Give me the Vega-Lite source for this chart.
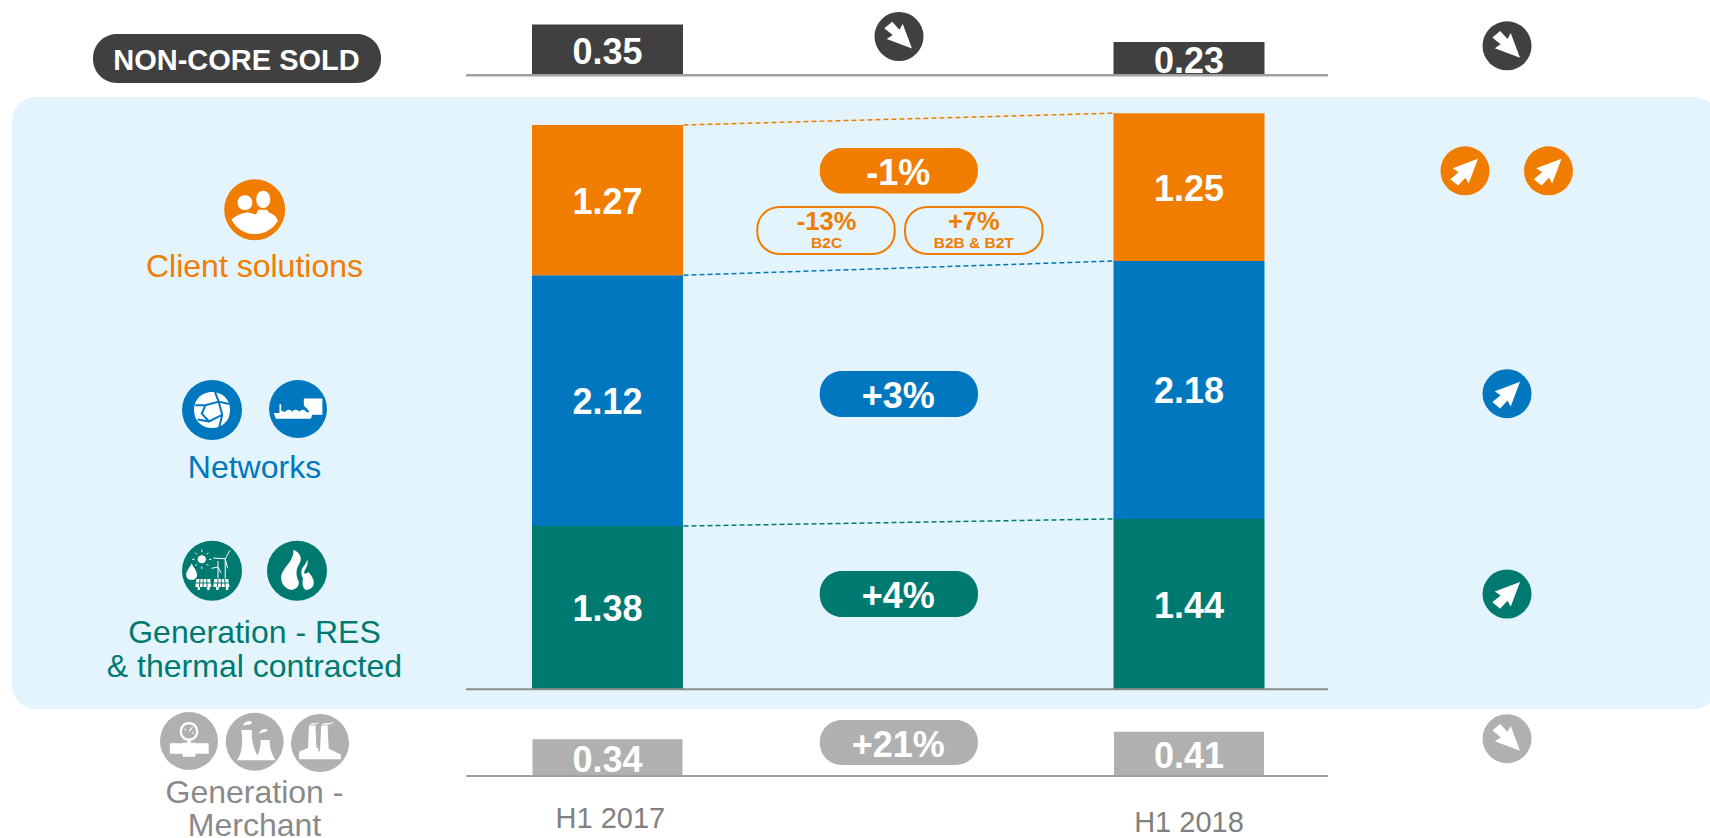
{
"$schema":"https://vega.github.io/schema/vega-lite/v6.json",
"width":1710,"height":838,"padding":0,"autosize":{"type":"none"},"background":"#ffffff",
"config":{"axis":{"disable":true},"view":{"stroke":null},"text":{"font":"Liberation Sans"}},
"datasets":{
"core":[
{"period":"H1 2017","year":2017,"segment":"Generation - RES & thermal contracted","level":1,"value":1.38},
{"period":"H1 2017","year":2017,"segment":"Networks","level":2,"value":2.12},
{"period":"H1 2017","year":2017,"segment":"Client solutions","level":3,"value":1.27},
{"period":"H1 2018","year":2018,"segment":"Generation - RES & thermal contracted","level":1,"value":1.44},
{"period":"H1 2018","year":2018,"segment":"Networks","level":2,"value":2.18},
{"period":"H1 2018","year":2018,"segment":"Client solutions","level":3,"value":1.25}],
"noncore":[{"period":"H1 2017","year":2017,"value":0.35},{"period":"H1 2018","year":2018,"value":0.23}],
"merchant":[{"period":"H1 2017","year":2017,"value":0.34},{"period":"H1 2018","year":2018,"value":0.41}]
},
"resolve":{"scale":{"y":"independent"}},
"layer":[
{"layer":[
{"data":{"values":[{"area":"regulated and contracted"}]},"mark":{"type":"rect","color":"#E3F4FD","cornerRadius":24},
 "encoding":{"x":{"datum":2015.9759,"scale":{"domain":[2015.95529,2018.89596],"nice":false,"zero":false,"padding":0}},"x2":{"datum":2018.9097},
 "y":{"datum":5.0068,"scale":{"domain":[-1.257,5.8267],"nice":false,"zero":false}},"y2":{"datum":-0.1665}}},
{"data":{"values":[{"link":"client solutions top"}]},"mark":{"type":"rule","color":"#F07D00","strokeWidth":1.5,"strokeDash":[5,3]},
 "encoding":{"x":{"datum":2017.1307},"x2":{"datum":2017.8693},"y":{"datum":4.77},"y2":{"datum":4.87}}},
{"data":{"values":[{"link":"networks top"}]},"mark":{"type":"rule","color":"#0077BE","strokeWidth":1.5,"strokeDash":[5,3]},
 "encoding":{"x":{"datum":2017.1307},"x2":{"datum":2017.8693},"y":{"datum":3.5},"y2":{"datum":3.62}}},
{"data":{"values":[{"link":"generation top"}]},"mark":{"type":"rule","color":"#007A70","strokeWidth":1.5,"strokeDash":[5,3]},
 "encoding":{"x":{"datum":2017.1307},"x2":{"datum":2017.8693},"y":{"datum":1.38},"y2":{"datum":1.44}}},
{"data":{"name":"core"},"mark":{"type":"bar","orient":"vertical","width":151},
 "encoding":{"x":{"field":"year","type":"quantitative","scale":{"domain":[2015.95529,2018.89596],"nice":false,"zero":false,"padding":0}},
 "y":{"field":"value","type":"quantitative","stack":"zero"},
 "order":{"field":"level","type":"quantitative"},
 "color":{"field":"segment","type":"nominal","legend":null,"scale":{"domain":["Client solutions","Networks","Generation - RES & thermal contracted"],"range":["#F07D00","#0077BE","#007A70"]}}}},
{"data":{"name":"core"},"mark":{"type":"text","color":"#ffffff","fontWeight":"bold","fontSize":36,"dy":2.5},
 "encoding":{"x":{"field":"year","type":"quantitative"},
 "y":{"field":"value","type":"quantitative","stack":"zero","bandPosition":0.5},
 "order":{"field":"level","type":"quantitative"},
 "text":{"field":"value","type":"quantitative","format":".2f"}}},
{"data":{"values":[{"line":"core baseline"}]},"mark":{"type":"rule","color":"#8C8C8C","strokeWidth":2},
 "encoding":{"x":{"datum":2016.7567},"x2":{"datum":2018.239},"y":{"datum":0}}},

{"data":{"values":[{"label":"NON-CORE SOLD"}]},"layer":[
 {"mark":{"type":"rect","color":"#404040","cornerRadius":24},"encoding":{"x":{"datum":2016.1152},"x2":{"datum":2016.6105},"y":{"datum":5.5393},"y2":{"datum":5.1251}}},
 {"mark":{"type":"text","color":"#ffffff","fontWeight":"bold","fontSize":29,"dy":2},"encoding":{"x":{"datum":2016.362},"y":{"datum":5.3254},"text":{"field":"label"}}}]},

{"data":{"values":[{"label":"-1%"}]},"layer":[
 {"mark":{"type":"rect","color":"#F07D00","cornerRadius":22},"encoding":{"x":{"datum":2017.365},"x2":{"datum":2017.637},"y":{"datum":4.5757},"y2":{"datum":4.191}}},
 {"mark":{"type":"text","color":"#ffffff","fontWeight":"bold","fontSize":36,"dy":2},"encoding":{"x":{"datum":2017.5},"y":{"datum":4.3728},"text":{"field":"label"}}}]},
{"data":{"values":[{"label":"+3%"}]},"layer":[
 {"mark":{"type":"rect","color":"#0077BE","cornerRadius":22},"encoding":{"x":{"datum":2017.365},"x2":{"datum":2017.637},"y":{"datum":2.6906},"y2":{"datum":2.3018}}},
 {"mark":{"type":"text","color":"#ffffff","fontWeight":"bold","fontSize":36,"dy":2},"encoding":{"x":{"datum":2017.5},"y":{"datum":2.4877},"text":{"field":"label"}}}]},
{"data":{"values":[{"label":"+4%"}]},"layer":[
 {"mark":{"type":"rect","color":"#007A70","cornerRadius":22},"encoding":{"x":{"datum":2017.365},"x2":{"datum":2017.637},"y":{"datum":1.0},"y2":{"datum":0.6112}}},
 {"mark":{"type":"text","color":"#ffffff","fontWeight":"bold","fontSize":36,"dy":2},"encoding":{"x":{"datum":2017.5},"y":{"datum":0.7971},"text":{"field":"label"}}}]},
{"data":{"values":[{"label":"+21%"}]},"layer":[
 {"mark":{"type":"rect","color":"#B0B0B0","cornerRadius":22},"encoding":{"x":{"datum":2017.365},"x2":{"datum":2017.637},"y":{"datum":-0.2595},"y2":{"datum":-0.6399}}},
 {"mark":{"type":"text","color":"#ffffff","fontWeight":"bold","fontSize":36,"dy":2},"encoding":{"x":{"datum":2017.5},"y":{"datum":-0.4624},"text":{"field":"label"}}}]},

{"data":{"values":[{"label":"-13%","market":"B2C"}]},"layer":[
 {"mark":{"type":"rect","fill":"transparent","stroke":"#F07D00","strokeWidth":2,"cornerRadius":22},"encoding":{"x":{"datum":2017.2576},"x2":{"datum":2017.4939},"y":{"datum":4.0769},"y2":{"datum":3.6796}}},
 {"mark":{"type":"text","color":"#F07D00","fontWeight":"bold","fontSize":25.5},"encoding":{"x":{"datum":2017.3768},"y":{"datum":3.9527},"text":{"field":"label"}}},
 {"mark":{"type":"text","color":"#F07D00","fontWeight":"bold","fontSize":15.5,"dy":1},"encoding":{"x":{"datum":2017.3768},"y":{"datum":3.7836},"text":{"field":"market"}}}]},
{"data":{"values":[{"label":"+7%","market":"B2B & B2T"}]},"layer":[
 {"mark":{"type":"rect","fill":"transparent","stroke":"#F07D00","strokeWidth":2,"cornerRadius":22},"encoding":{"x":{"datum":2017.5116},"x2":{"datum":2017.7481},"y":{"datum":4.0769},"y2":{"datum":3.6796}}},
 {"mark":{"type":"text","color":"#F07D00","fontWeight":"bold","fontSize":25.5},"encoding":{"x":{"datum":2017.6299},"y":{"datum":3.9527},"text":{"field":"label"}}},
 {"mark":{"type":"text","color":"#F07D00","fontWeight":"bold","fontSize":15.5,"dy":1},"encoding":{"x":{"datum":2017.6299},"y":{"datum":3.7836},"text":{"field":"market"}}}]},

{"data":{"values":[{"label":"Client solutions"}]},"mark":{"type":"text","color":"#F07D00","fontSize":32,"dy":2},"encoding":{"x":{"datum":2016.3929},"y":{"datum":3.5866},"text":{"field":"label"}}},
{"data":{"values":[{"label":"Networks"}]},"mark":{"type":"text","color":"#0077BE","fontSize":32,"dy":1},"encoding":{"x":{"datum":2016.3929},"y":{"datum":1.8817},"text":{"field":"label"}}},
{"data":{"values":[{"label":"Generation - RES\n& thermal contracted"}]},"mark":{"type":"text","color":"#007A70","fontSize":32,"lineBreak":"\n","lineHeight":34,"dy":1},"encoding":{"x":{"datum":2016.3929},"y":{"datum":0.4869},"text":{"field":"label"}}},
{"data":{"values":[{"label":"Generation -\nMerchant"}]},"mark":{"type":"text","color":"#8A8A8A","fontSize":32,"lineBreak":"\n","lineHeight":33},"encoding":{"x":{"datum":2016.3929},"y":{"datum":-0.8766},"text":{"field":"label"}}},
{"data":{"values":[{"label":"H1 2017"}]},"mark":{"type":"text","color":"#808080","fontSize":29,"dy":1},"encoding":{"x":{"datum":2017.005},"y":{"datum":-1.0854},"text":{"field":"label"}}},
{"data":{"values":[{"label":"H1 2018"}]},"mark":{"type":"text","color":"#808080","fontSize":29,"dy":1},"encoding":{"x":{"datum":2018},"y":{"datum":-1.1192},"text":{"field":"label"}}},

{"data":{"values":[{"trend":"down","series":"non-core change"}]},"encoding":{"x":{"datum":2017.5013},"y":{"datum":5.5182}},"layer":[
 {"mark":{"type":"circle","color":"#404040","size":2401,"opacity":1}},
 {"mark":{"type":"point","shape":"M0.265,0.245L0.075,-0.26L0.01,-0.14L-0.14,-0.30L-0.30,-0.17L-0.13,-0.03L-0.25,0.05Z","filled":true,"color":"#ffffff","size":9604,"opacity":1}}]},
{"data":{"values":[{"trend":"down","series":"non-core outlook"}]},"encoding":{"x":{"datum":2018.5469},"y":{"datum":5.4395}},"layer":[
 {"mark":{"type":"circle","color":"#404040","size":2401,"opacity":1}},
 {"mark":{"type":"point","shape":"M0.265,0.245L0.075,-0.26L0.01,-0.14L-0.14,-0.30L-0.30,-0.17L-0.13,-0.03L-0.25,0.05Z","filled":true,"color":"#ffffff","size":9604,"opacity":1}}]},
{"data":{"values":[{"trend":"up","series":"B2C outlook"}]},"encoding":{"x":{"datum":2018.4746},"y":{"datum":4.3829}},"layer":[
 {"mark":{"type":"circle","color":"#F07D00","size":2401,"opacity":1}},
 {"mark":{"type":"point","shape":"M0.265,-0.245L0.075,0.26L0.01,0.14L-0.14,0.30L-0.30,0.17L-0.13,0.03L-0.25,-0.05Z","filled":true,"color":"#ffffff","size":9604,"opacity":1}}]},
{"data":{"values":[{"trend":"up","series":"B2B outlook"}]},"encoding":{"x":{"datum":2018.6182},"y":{"datum":4.3829}},"layer":[
 {"mark":{"type":"circle","color":"#F07D00","size":2401,"opacity":1}},
 {"mark":{"type":"point","shape":"M0.265,-0.245L0.075,0.26L0.01,0.14L-0.14,0.30L-0.30,0.17L-0.13,0.03L-0.25,-0.05Z","filled":true,"color":"#ffffff","size":9604,"opacity":1}}]},
{"data":{"values":[{"trend":"up","series":"networks outlook"}]},"encoding":{"x":{"datum":2018.5469},"y":{"datum":2.4987}},"layer":[
 {"mark":{"type":"circle","color":"#0077BE","size":2401,"opacity":1}},
 {"mark":{"type":"point","shape":"M0.265,-0.245L0.075,0.26L0.01,0.14L-0.14,0.30L-0.30,0.17L-0.13,0.03L-0.25,-0.05Z","filled":true,"color":"#ffffff","size":9604,"opacity":1}}]},
{"data":{"values":[{"trend":"up","series":"generation outlook"}]},"encoding":{"x":{"datum":2018.5469},"y":{"datum":0.8056}},"layer":[
 {"mark":{"type":"circle","color":"#007A70","size":2401,"opacity":1}},
 {"mark":{"type":"point","shape":"M0.265,-0.245L0.075,0.26L0.01,0.14L-0.14,0.30L-0.30,0.17L-0.13,0.03L-0.25,-0.05Z","filled":true,"color":"#ffffff","size":9604,"opacity":1}}]},
{"data":{"values":[{"trend":"down","series":"merchant outlook"}]},"encoding":{"x":{"datum":2018.5469},"y":{"datum":-0.4176}},"layer":[
 {"mark":{"type":"circle","color":"#B0B0B0","size":2401,"opacity":1}},
 {"mark":{"type":"point","shape":"M0.265,0.245L0.075,-0.26L0.01,-0.14L-0.14,-0.30L-0.30,-0.17L-0.13,-0.03L-0.25,0.05Z","filled":true,"color":"#ffffff","size":9604,"opacity":1}}]},

{"data":{"values":[{"icon":"customers"}]},"encoding":{"x":{"datum":2016.3933},"y":{"datum":4.0541}},"layer":[
 {"mark":{"type":"circle","color":"#F07D00","size":3721,"opacity":1}},
 {"mark":{"type":"point","shape":"M-0.28,-0.115C-0.28,-0.275 -0.04,-0.275 -0.04,-0.115C-0.04,0.045 -0.28,0.045 -0.28,-0.115Z M0.025,-0.17C0.025,-0.36 0.255,-0.36 0.255,-0.17C0.255,0.02 0.025,0.02 0.025,-0.17Z M-0.38,0.16C-0.3,0.08 -0.2,0.06 -0.12,0.04L0.02,0.08L0.06,0L0.2,0L0.24,0.05C0.3,0.07 0.35,0.1 0.38,0.18C0.3,0.32 0.15,0.4 0,0.4C-0.15,0.4 -0.3,0.32 -0.38,0.16Z","filled":true,"color":"#ffffff","size":14884,"opacity":1}}]},
{"data":{"values":[{"icon":"power grid"}]},"encoding":{"x":{"datum":2016.3199},"y":{"datum":2.3609}},"layer":[
 {"mark":{"type":"circle","color":"#0077BE","size":3600,"opacity":1}},
 {"mark":{"type":"point","shape":"M-0.3,0C-0.3,-0.4 0.3,-0.4 0.3,0C0.3,0.4 -0.3,0.4 -0.3,0Z","filled":true,"color":"#ffffff","size":14400,"opacity":1}},
 {"mark":{"type":"point","shape":"M-0.11,-0.08L0.11,-0.14L0.17,0.08L-0.05,0.19L-0.17,0.06Z M-0.11,-0.08L-0.28,-0.08 M0.11,-0.14L0.05,-0.3 M0.11,-0.14L0.28,-0.1 M0.17,0.08L0.12,0.29 M-0.05,0.19L-0.24,0.16","filled":false,"color":"#0077BE","strokeWidth":2,"size":14400,"opacity":1}}]},
{"data":{"values":[{"icon":"gas carrier"}]},"encoding":{"x":{"datum":2016.4678},"y":{"datum":2.3694}},"layer":[
 {"mark":{"type":"circle","color":"#0077BE","size":3364,"opacity":1}},
 {"mark":{"type":"point","shape":"M-0.42,0.07L-0.32,0.07L-0.32,-0.08L-0.29,-0.08L-0.29,0.03L-0.22,0.05C-0.2,0 -0.12,0 -0.1,0.05C-0.08,0 0,0 0.02,0.05C0.04,0 0.12,0 0.14,0.05L0.26,0.07L0.22,0.17L-0.38,0.17Z M0.1,-0.18L0.42,-0.18L0.42,0.1L0.2,0.1C0.2,0 0.12,-0.02 0.1,-0.06Z","filled":true,"color":"#ffffff","size":13456,"opacity":1}}]},
{"data":{"values":[{"icon":"renewables"}]},"encoding":{"x":{"datum":2016.3199},"y":{"datum":1.0025}},"layer":[
 {"mark":{"type":"circle","color":"#007A70","size":3600,"opacity":1}},
 {"mark":{"type":"point","shape":"M-0.34,-0.12C-0.3,-0.04 -0.25,0 -0.25,0.07C-0.25,0.18 -0.43,0.18 -0.43,0.07C-0.43,0 -0.38,-0.04 -0.34,-0.12Z M-0.24,-0.19C-0.24,-0.28 -0.1,-0.28 -0.1,-0.19C-0.1,-0.1 -0.24,-0.1 -0.24,-0.19Z M-0.26,0.14L-0.03,0.14L-0.01,0.27L-0.28,0.27Z M0.04,0.14L0.27,0.14L0.29,0.27L0.02,0.27Z M-0.24,0.27L-0.2,0.27L-0.2,0.32L-0.24,0.32Z M-0.08,0.27L-0.04,0.27L-0.04,0.32L-0.08,0.32Z M0.07,0.27L0.11,0.27L0.11,0.32L0.07,0.32Z M0.23,0.27L0.27,0.27L0.27,0.32L0.23,0.32Z","filled":true,"color":"#ffffff","size":14400,"opacity":1}},
 {"mark":{"type":"point","shape":"M0.22,-0.2L0.22,0.13M0.22,-0.2L0.3,-0.34M0.22,-0.2L0.02,-0.21M0.22,-0.2L0.26,-0.04M0.1,-0.06L0.1,0.13M0.1,-0.06L0.1,-0.16M0.1,-0.06L-0.01,-0.04M0.1,-0.06L0.15,0.04M-0.17,-0.31L-0.17,-0.35M-0.17,-0.07L-0.17,-0.03M-0.29,-0.19L-0.33,-0.19M-0.05,-0.19L-0.01,-0.19M-0.25,-0.27L-0.28,-0.3M-0.09,-0.27L-0.06,-0.3M-0.25,-0.11L-0.28,-0.08M-0.09,-0.11L-0.06,-0.08","filled":false,"color":"#ffffff","strokeWidth":1,"size":14400,"opacity":1}},
 {"mark":{"type":"point","shape":"M-0.2,0.14L-0.21,0.27M-0.145,0.14L-0.15,0.27M-0.09,0.14L-0.08,0.27M-0.27,0.205L-0.02,0.205M0.1,0.14L0.09,0.27M0.155,0.14L0.155,0.27M0.21,0.14L0.22,0.27M0.03,0.205L0.28,0.205","filled":false,"color":"#007A70","strokeWidth":1,"size":14400,"opacity":1}}]},
{"data":{"values":[{"icon":"thermal"}]},"encoding":{"x":{"datum":2016.466},"y":{"datum":1.0025}},"layer":[
 {"mark":{"type":"circle","color":"#007A70","size":3600,"opacity":1}},
 {"mark":{"type":"point","shape":"M-0.06,-0.35C0.06,-0.3 0.1,-0.2 0.03,-0.1C-0.03,0 -0.01,0.1 0.03,0.18C0.04,0.24 0,0.31 -0.09,0.32C-0.22,0.3 -0.28,0.18 -0.26,0.08C-0.22,-0.08 -0.05,-0.15 -0.06,-0.35Z M0.17,-0.19C0.2,-0.1 0.14,-0.03 0.12,0.02C0.11,0.05 0.15,0.06 0.19,0.02C0.24,0.08 0.28,0.13 0.28,0.2C0.28,0.28 0.2,0.32 0.15,0.32C0.1,0.3 0.08,0.22 0.1,0.13C0.06,0.06 0.07,-0.02 0.1,-0.06C0.14,-0.1 0.16,-0.14 0.17,-0.19Z","filled":true,"color":"#ffffff","size":14400,"opacity":1}}]},
{"data":{"values":[{"icon":"gas pipe"}]},"encoding":{"x":{"datum":2016.2803},"y":{"datum":-0.437}},"layer":[
 {"mark":{"type":"circle","color":"#B0B0B0","size":3364,"opacity":1}},
 {"mark":{"type":"point","shape":"M-0.16,-0.165C-0.16,-0.38 0.16,-0.38 0.16,-0.165C0.16,0.05 -0.16,0.05 -0.16,-0.165Z M-0.03,-0.02L0.03,-0.02L0.03,0.05L-0.03,0.05Z M-0.33,0.04L0.34,0.04L0.34,0.22L-0.33,0.22Z M-0.11,0.03L0.11,0.03L0.11,0.27L-0.11,0.27Z","filled":true,"color":"#ffffff","size":13456,"opacity":1}},
 {"mark":{"type":"point","shape":"M-0.12,-0.165C-0.12,-0.325 0.12,-0.325 0.12,-0.165C0.12,-0.005 -0.12,-0.005 -0.12,-0.165Z","filled":true,"color":"#B0B0B0","size":13456,"opacity":1}},
 {"mark":{"type":"point","shape":"M0,-0.165L0.06,-0.24 M-0.08,-0.2L-0.05,-0.19 M0.08,-0.14L0.05,-0.14 M-0.14,0.05L-0.14,0.21 M0.14,0.05L0.14,0.21 M-0.08,0.06L0.08,0.06L0.08,0.24L-0.08,0.24Z","filled":false,"color":"#ffffff","strokeWidth":1.2,"size":13456,"opacity":1}}]},
{"data":{"values":[{"icon":"cooling towers"}]},"encoding":{"x":{"datum":2016.3933},"y":{"datum":-0.4429}},"layer":[
 {"mark":{"type":"circle","color":"#B0B0B0","size":3364,"opacity":1}},
 {"mark":{"type":"point","shape":"M-0.23,-0.2L-0.05,-0.2C-0.06,0.05 0.02,0.2 0.09,0.32L-0.31,0.32C-0.22,0.2 -0.2,0.05 -0.23,-0.2Z M0.1,-0.03L0.26,-0.03C0.25,0.1 0.3,0.22 0.36,0.32L0,0.32C0.07,0.22 0.11,0.1 0.1,-0.03Z M-0.2,-0.27C-0.2,-0.36 -0.05,-0.38 -0.05,-0.33C-0.05,-0.28 -0.15,-0.3 -0.2,-0.27Z M0.08,-0.13C0.08,-0.22 0.2,-0.24 0.22,-0.2C0.22,-0.16 0.12,-0.17 0.08,-0.13Z","filled":true,"color":"#ffffff","size":13456,"opacity":1}}]},
{"data":{"values":[{"icon":"coal plant"}]},"encoding":{"x":{"datum":2016.5056},"y":{"datum":-0.4539}},"layer":[
 {"mark":{"type":"circle","color":"#B0B0B0","size":3364,"opacity":1}},
 {"mark":{"type":"point","shape":"M-0.19,-0.3L-0.07,-0.3L-0.05,0.15L-0.21,0.15Z M0.02,-0.3L0.14,-0.3L0.16,0.15L0,0.15Z M-0.19,-0.31C-0.12,-0.37 -0.06,-0.32 -0.01,-0.36C-0.05,-0.3 -0.13,-0.32 -0.19,-0.31Z M0.02,-0.31C0.09,-0.37 0.16,-0.32 0.24,-0.37C0.19,-0.3 0.09,-0.32 0.02,-0.31Z M-0.36,0.28L-0.36,0.15L-0.2,0.08L-0.2,0.15L-0.03,0.08L-0.03,0.15L0.12,0.08L0.36,0.2L0.36,0.28Z","filled":true,"color":"#ffffff","size":13456,"opacity":1}},
 {"mark":{"type":"point","shape":"M-0.07,-0.28L-0.05,0.08 M0.14,-0.28L0.16,0.1","filled":false,"color":"#B0B0B0","strokeWidth":1,"size":13456,"opacity":1}}]}
]},

{"layer":[
{"data":{"name":"noncore"},"mark":{"type":"bar","orient":"vertical","width":151,"color":"#404040"},
 "encoding":{"x":{"field":"year","type":"quantitative","scale":{"domain":[2015.95529,2018.89596],"nice":false,"zero":false,"padding":0}},
 "y":{"field":"value","type":"quantitative","stack":"zero","scale":{"domain":[-5.26,0.5193],"nice":false,"zero":false}}}},
{"data":{"name":"noncore"},"mark":{"type":"text","color":"#ffffff","fontWeight":"bold","fontSize":36,"dy":3},
 "encoding":{"x":{"field":"year","type":"quantitative"},
 "y":{"field":"value","type":"quantitative","stack":"zero","bandPosition":0.5},
 "text":{"field":"value","type":"quantitative","format":".2f"}}},
{"data":{"values":[{"line":"non-core baseline"}]},"mark":{"type":"rule","color":"#A0A0A0","strokeWidth":2.5},
 "encoding":{"x":{"datum":2016.7567},"x2":{"datum":2018.239},"y":{"datum":0}}}
]},

{"layer":[
{"data":{"name":"merchant"},"mark":{"type":"bar","orient":"vertical","width":150,"color":"#B0B0B0"},
 "encoding":{"x":{"field":"year","type":"quantitative","scale":{"domain":[2015.95529,2018.89596],"nice":false,"zero":false,"padding":0}},
 "y":{"field":"value","type":"quantitative","stack":"zero","scale":{"domain":[-0.5741,7.1852],"nice":false,"zero":false}}}},
{"data":{"name":"merchant"},"mark":{"type":"text","color":"#ffffff","fontWeight":"bold","fontSize":36,"dy":3},
 "encoding":{"x":{"field":"year","type":"quantitative"},
 "y":{"field":"value","type":"quantitative","stack":"zero","bandPosition":0.5},
 "text":{"field":"value","type":"quantitative","format":".2f"}}},
{"data":{"values":[{"line":"merchant baseline"}]},"mark":{"type":"rule","color":"#A0A0A0","strokeWidth":2},
 "encoding":{"x":{"datum":2016.7567},"x2":{"datum":2018.239},"y":{"datum":0}}}
]}
]}
